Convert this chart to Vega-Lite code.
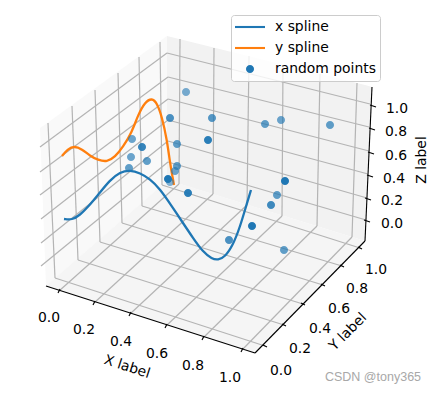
{
"$schema":"https://vega.github.io/schema/vega-lite/v6.json",
"width":436,"height":393,"padding":0,"autosize":{"type":"none"},
"background":"white",
"config":{"view":{"stroke":null}},
"datasets":{
"grid":[
{"h":59,"v":291,"h2":179,"v2":184},{"h":94,"v":303,"h2":213,"v2":194},{"h":130,"v":314,"h2":247,"v2":205},{"h":166,"v":326,"h2":282,"v2":216},{"h":203,"v":338,"h2":317,"v2":226},{"h":242,"v":350,"h2":352,"v2":237},
{"h":179,"v":184,"h2":180,"v2":39},{"h":213,"v":194,"h2":214,"v2":48},{"h":247,"v":205,"h2":249,"v2":56},{"h":282,"v":216,"h2":283,"v2":65},{"h":317,"v":226,"h2":320,"v2":74},{"h":352,"v":237,"h2":357,"v2":83},
{"h":55,"v":278,"h2":265,"v2":346},{"h":78,"v":260,"h2":284,"v2":325},{"h":100,"v":242,"h2":303,"v2":304},{"h":122,"v":223,"h2":323,"v2":285},{"h":142,"v":206,"h2":342,"v2":266},{"h":162,"v":185,"h2":360,"v2":248},
{"h":55,"v":278,"h2":48,"v2":123},{"h":78,"v":260,"h2":72,"v2":106},{"h":100,"v":242,"h2":95,"v2":90},{"h":122,"v":223,"h2":118,"v2":73},{"h":142,"v":206,"h2":139,"v2":57},{"h":162,"v":185,"h2":160,"v2":42},
{"h":41,"v":266,"h2":168,"v2":162},{"h":41,"v":243,"h2":168,"v2":141},{"h":41,"v":219,"h2":168,"v2":120},{"h":40,"v":195,"h2":168,"v2":99},{"h":40,"v":172,"h2":168,"v2":77},{"h":40,"v":147,"h2":167,"v2":53},
{"h":168,"v":162,"h2":366,"v2":220},{"h":168,"v":141,"h2":367,"v2":198},{"h":168,"v":120,"h2":368,"v2":174},{"h":168,"v":99,"h2":369,"v2":151},{"h":168,"v":77,"h2":369,"v2":127},{"h":167,"v":53,"h2":370,"v2":104}
],
"axes":[
{"h":46,"v":286,"h2":255,"v2":353},{"h":255,"v":353,"h2":365,"v2":241},{"h":365,"v":241,"h2":372,"v2":87},
{"h":60,"v":289,"h2":58,"v2":293},{"h":95,"v":301,"h2":93,"v2":305},{"h":131,"v":312,"h2":129,"v2":316},{"h":167,"v":324,"h2":165,"v2":328},{"h":204,"v":336,"h2":202,"v2":340},{"h":243,"v":348,"h2":241,"v2":352},
{"h":263,"v":345,"h2":267,"v2":347},{"h":282,"v":324,"h2":286,"v2":326},{"h":301,"v":303,"h2":305,"v2":305},{"h":321,"v":284,"h2":325,"v2":286},{"h":340,"v":265,"h2":344,"v2":267},{"h":358,"v":247,"h2":362,"v2":249},
{"h":364,"v":220,"h2":370,"v2":222},{"h":365,"v":198,"h2":371,"v2":200},{"h":367,"v":175,"h2":373,"v2":177},{"h":368,"v":152,"h2":374,"v2":154},{"h":369,"v":128,"h2":375,"v2":130},{"h":370,"v":105,"h2":376,"v2":107}
],
"splines":[
{"series":" x spline","h":64,"v":219},{"series":" x spline","h":72,"v":220},{"series":" x spline","h":80,"v":215},{"series":" x spline","h":88,"v":207},{"series":" x spline","h":98,"v":195},{"series":" x spline","h":110,"v":180},{"series":" x spline","h":120,"v":172},{"series":" x spline","h":130,"v":170},{"series":" x spline","h":140,"v":173},{"series":" x spline","h":150,"v":179},{"series":" x spline","h":160,"v":189},{"series":" x spline","h":171,"v":205},{"series":" x spline","h":183,"v":223},{"series":" x spline","h":193,"v":238},{"series":" x spline","h":203,"v":252},{"series":" x spline","h":212,"v":259},{"series":" x spline","h":218,"v":260},{"series":" x spline","h":225,"v":257},{"series":" x spline","h":233,"v":245},{"series":" x spline","h":240,"v":227},{"series":" x spline","h":247,"v":203},{"series":" x spline","h":251,"v":190},
{"series":" y spline","h":62,"v":156},{"series":" y spline","h":68,"v":149},{"series":" y spline","h":74,"v":146},{"series":" y spline","h":82,"v":149},{"series":" y spline","h":90,"v":156},{"series":" y spline","h":98,"v":160},{"series":" y spline","h":107,"v":162},{"series":" y spline","h":115,"v":157},{"series":" y spline","h":123,"v":147},{"series":" y spline","h":132,"v":132},{"series":" y spline","h":138,"v":115},{"series":" y spline","h":145,"v":102},{"series":" y spline","h":152,"v":98},{"series":" y spline","h":157,"v":103},{"series":" y spline","h":162,"v":117},{"series":" y spline","h":167,"v":140},{"series":" y spline","h":170,"v":163},{"series":" y spline","h":174,"v":185}
],
"points":[
{"series":"random points","h":186,"v":92,"depth":0.2},{"series":"random points","h":170,"v":118,"depth":0.6},{"series":"random points","h":212,"v":118,"depth":0.5},{"series":"random points","h":208,"v":140,"depth":0.9},{"series":"random points","h":132,"v":139,"depth":0.3},{"series":"random points","h":142,"v":147,"depth":0.8},{"series":"random points","h":177,"v":144,"depth":0.4},{"series":"random points","h":131,"v":157,"depth":0.3},{"series":"random points","h":147,"v":161,"depth":0.4},{"series":"random points","h":129,"v":168,"depth":0.4},{"series":"random points","h":177,"v":166,"depth":0.4},{"series":"random points","h":175,"v":171,"depth":0.3},{"series":"random points","h":170,"v":182,"depth":0.1},{"series":"random points","h":168,"v":179,"depth":1},{"series":"random points","h":188,"v":193,"depth":0.9},{"series":"random points","h":265,"v":124,"depth":0.4},{"series":"random points","h":281,"v":120,"depth":0.3},{"series":"random points","h":330,"v":125,"depth":0.4},{"series":"random points","h":285,"v":181,"depth":1},{"series":"random points","h":277,"v":195,"depth":0.4},{"series":"random points","h":271,"v":205,"depth":0.7},{"series":"random points","h":252,"v":226,"depth":1},{"series":"random points","h":229,"v":240,"depth":0.6},{"series":"random points","h":284,"v":250,"depth":0.4}
],
"ticklabels":[
{"t":"0.0","h":49,"v":318},{"t":"0.2","h":84,"v":330},{"t":"0.4","h":121,"v":342},{"t":"0.6","h":157,"v":354},{"t":"0.8","h":193,"v":366},{"t":"1.0","h":230,"v":378},
{"t":"0.0","h":281,"v":371},{"t":"0.2","h":300,"v":349},{"t":"0.4","h":320,"v":329},{"t":"0.6","h":339,"v":309},{"t":"0.8","h":357,"v":289},{"t":"1.0","h":376,"v":270},
{"t":"1.0","h":397,"v":109},{"t":"0.8","h":396,"v":132},{"t":"0.6","h":396,"v":156},{"t":"0.4","h":394,"v":179},{"t":"0.2","h":392,"v":201},{"t":"0.0","h":392,"v":224}
]
},
"encoding":{
"x":{"field":"h","type":"quantitative","scale":{"domain":[0,436],"nice":false,"zero":false},"axis":null},
"y":{"field":"v","type":"quantitative","scale":{"domain":[0,393],"reverse":true,"nice":false,"zero":false},"axis":null}
},
"layer":[
{"data":{"values":[{"h":40,"v":128,"b":128},{"h":46,"v":124,"b":286},{"h":167,"v":36,"b":181},{"h":168,"v":36,"b":180}]},
 "mark":{"type":"area","color":"#f9f9f9"},"encoding":{"y2":{"field":"b"}}},
{"data":{"values":[{"h":167,"v":36,"b":180},{"h":365,"v":85,"b":241},{"h":372,"v":87,"b":87}]},
 "mark":{"type":"area","color":"#f2f2f2"},"encoding":{"y2":{"field":"b"}}},
{"data":{"values":[{"h":46,"v":286,"b":286},{"h":168,"v":180,"b":325},{"h":255,"v":207,"b":353},{"h":365,"v":241,"b":241}]},
 "mark":{"type":"area","color":"#f5f5f5"},"encoding":{"y2":{"field":"b"}}},
{"data":{"name":"grid"},"mark":{"type":"rule","color":"#b4b4b4","strokeWidth":1.2},
 "encoding":{"x2":{"field":"h2"},"y2":{"field":"v2"}}},
{"data":{"name":"axes"},"mark":{"type":"rule","color":"#000000","strokeWidth":1.1},
 "encoding":{"x2":{"field":"h2"},"y2":{"field":"v2"}}},
{"data":{"name":"splines"},"mark":{"type":"line","interpolate":"basis","strokeWidth":2.3},
 "encoding":{"stroke":{"field":"series","type":"nominal","legend":null,"scale":{"domain":[" x spline"," y spline"],"range":["#1f77b4","#ff7f0e"]}}}},
{"data":{"name":"points"},"mark":{"type":"point","filled":true,"size":900,"strokeWidth":0},
 "encoding":{
  "color":{"field":"series","type":"nominal","legend":{"title":null,"orient":"none","legendX":231,"legendY":15,"padding":4,"fillColor":"rgba(255,255,255,0.8)","strokeColor":"#cccccc","cornerRadius":3,"symbolSize":900,"symbolOpacity":1,"symbolStrokeWidth":0,"labelFont":"DejaVu Sans","labelFontSize":13.9,"labelColor":"#000000","labelOffset":10,"clipHeight":16,"rowPadding":5,"labelLimit":200,"labelExpr":"datum.value === 'random points' ? datum.label : '\u00a0' + trim(datum.label)"},"scale":{"domain":[" x spline"," y spline","random points"],"range":["#1f77b4","#ff7f0e","#1f77b4"]}},
  "shape":{"field":"series","type":"nominal","legend":{"title":null,"orient":"none","legendX":231,"legendY":15,"padding":4,"fillColor":"rgba(255,255,255,0.8)","strokeColor":"#cccccc","cornerRadius":3,"symbolSize":900,"symbolOpacity":1,"symbolStrokeWidth":0,"labelFont":"DejaVu Sans","labelFontSize":13.9,"labelColor":"#000000","labelOffset":10,"clipHeight":16,"rowPadding":5,"labelLimit":200,"labelExpr":"datum.value === 'random points' ? datum.label : '\u00a0' + trim(datum.label)"},"scale":{"domain":[" x spline"," y spline","random points"],"range":["M-1,-0.07H1V0.07H-1Z","M-1,-0.07H1V0.07H-1Z","M-0.27,0A0.27,0.27 0 1 1 0.27,0A0.27,0.27 0 1 1 -0.27,0Z"]}},
  "opacity":{"field":"depth","type":"quantitative","legend":null,"scale":{"domain":[0,1],"range":[0.5,1]}}
 }},
{"data":{"name":"ticklabels"},"mark":{"type":"text","font":"DejaVu Sans","fontSize":13.9,"color":"#000000","align":"center","baseline":"middle"},
 "encoding":{"text":{"field":"t"}}},
{"data":{"values":[{"t":"X label","h":127,"v":367}]},"mark":{"type":"text","font":"DejaVu Sans","fontSize":13.9,"color":"#000000","angle":18,"align":"center","baseline":"middle"},"encoding":{"text":{"field":"t"}}},
{"data":{"values":[{"t":"Y label","h":348,"v":332}]},"mark":{"type":"text","font":"DejaVu Sans","fontSize":13.9,"color":"#000000","angle":315,"align":"center","baseline":"middle"},"encoding":{"text":{"field":"t"}}},
{"data":{"values":[{"t":"Z label","h":422,"v":160}]},"mark":{"type":"text","font":"DejaVu Sans","fontSize":13.9,"color":"#000000","angle":270,"align":"center","baseline":"middle"},"encoding":{"text":{"field":"t"}}},
{"data":{"values":[{"t":"CSDN @tony365","h":373,"v":377}]},"mark":{"type":"text","font":"Liberation Sans","fontSize":12.5,"color":"#a8a8a8","align":"center","baseline":"middle"},"encoding":{"text":{"field":"t"}}}
]
}
